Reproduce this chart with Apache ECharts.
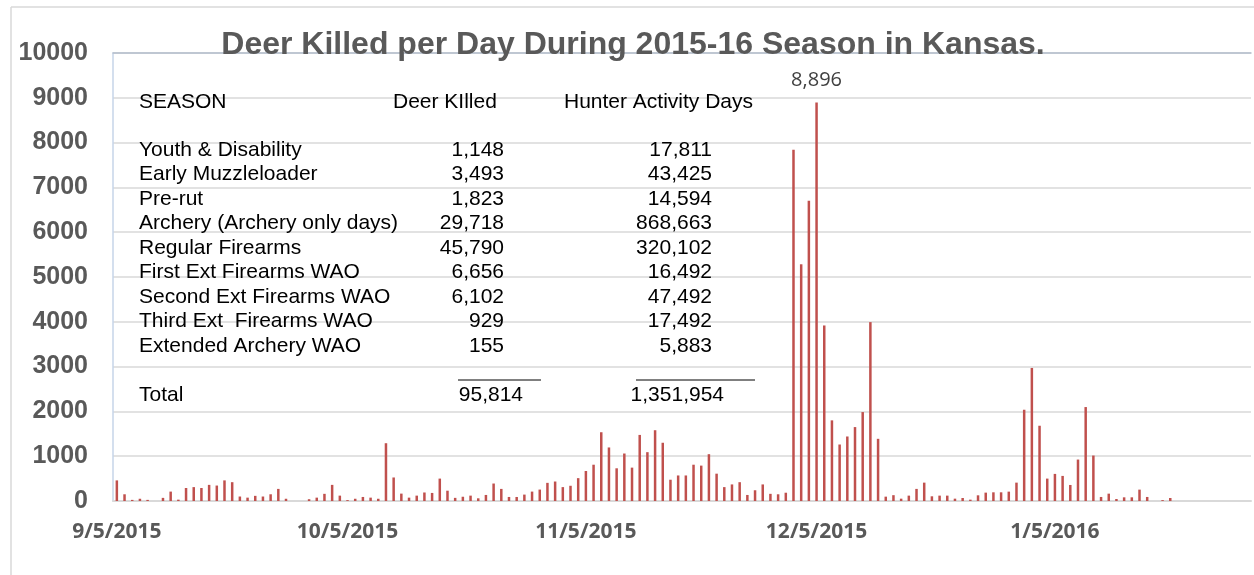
<!DOCTYPE html>
<html>
<head>
<meta charset="UTF-8">
<title>Deer Killed per Day</title>
<script src="https://cdn.jsdelivr.net/npm/echarts@6/dist/echarts.min.js"></script>
<style>
body { margin: 0; background: #fff; }
#main { width: 1254px; height: 575px; }
</style>
</head>
<body>
<div id="main"></div>
<script>
// daily deer kill, starting 9/5/2015
var startDate = new Date(2015, 8, 5);
var kills = [
  460, 150, 25, 50, 25, 0, 70, 210, 30, 290,
  310, 290, 360, 345, 460, 420, 100, 75, 115, 100,
  150, 270, 50, 0, 0, 40, 75, 160, 360, 120,
  20, 50, 90, 75, 50, 1290, 525, 165, 75, 120,
  190, 180, 500, 230, 70, 95, 120, 60, 135, 390,
  270, 90, 90, 143, 210, 255, 405, 435, 310, 340,
  510, 670, 810, 1535, 1195, 730, 1060, 745, 1475, 1090,
  1580, 1300, 475, 570, 570, 810, 790, 1045, 610, 310,
  370, 420, 135, 240, 370, 160, 150, 185, 7843, 5284,
  6701, 8896, 3918, 1800, 1261, 1440, 1650, 1985, 3993, 1388,
  97, 130, 52, 120, 270, 410, 105, 120, 120, 52,
  67, 30, 127, 187, 194, 194, 209, 410, 2037, 2970,
  1680, 500, 605, 560, 358, 925, 2097, 1015, 90, 164,
  45, 82, 82, 254, 90, 0, 20, 67, 0, 0,
  0, 0, 0, 0, 0, 0, 0, 0
];
var tickLabels = ['9/5/2015', '10/5/2015', '11/5/2015', '12/5/2015', '1/5/2016'];
var yTicks = [0, 1000, 2000, 3000, 4000, 5000, 6000, 7000, 8000, 9000, 10000];

// table in the chart
var seasons = ['Youth & Disability', 'Early Muzzleloader', 'Pre-rut', 'Archery (Archery only days)',
  'Regular Firearms', 'First Ext Firearms WAO', 'Second Ext Firearms WAO', 'Third Ext  Firearms WAO',
  'Extended Archery WAO'];
var deerKilled = ['1,148', '3,493', '1,823', '29,718', '45,790', '6,656', '6,102', '929', '155'];
var hunterDays = ['17,811', '43,425', '14,594', '868,663', '320,102', '16,492', '47,492', '17,492', '5,883'];
var totalDeer = '95,814';
var totalDays = '1,351,954';

var dates = [];
for (var i = 0; i < kills.length; i++) {
  var d = new Date(startDate.getTime());
  d.setDate(d.getDate() + i);
  dates.push((d.getMonth() + 1) + '/' + d.getDate() + '/' + d.getFullYear());
}
var peak = Math.max.apply(null, kills);

var txt = function (x, y, text, opts) {
  opts = opts || {};
  return {
    type: 'text', x: x, y: y, z: 10,
    style: {
      text: text,
      fill: opts.color || '#000',
      font: (opts.weight || 'normal') + ' ' + (opts.size || 21) + 'px "Liberation Sans", Arial, sans-serif',
      textAlign: opts.align || 'left',
      textVerticalAlign: 'middle'
    }
  };
};

var graphics = [
  { type: 'line', shape: { x1: 11, y1: 7, x2: 1254, y2: 7 }, style: { stroke: '#d9d9d9', lineWidth: 1.5 } },
  { type: 'line', shape: { x1: 11, y1: 7, x2: 11, y2: 575 }, style: { stroke: '#d9d9d9', lineWidth: 1.5 } },
  txt(633, 45, 'Deer Killed per Day During 2015-16 Season in Kansas.', { size: 32, weight: 'bold', color: '#595959', align: 'center' }),
  txt(139, 102, 'SEASON'),
  txt(393, 102, 'Deer KIlled'),
  txt(564, 102, 'Hunter Activity Days')
];
var rowY = 150, rowStep = 24.5;
seasons.forEach(function (s, k) {
  var y = rowY + k * rowStep;
  graphics.push(txt(139, y, s));
  graphics.push(txt(504, y, deerKilled[k], { align: 'right' }));
  graphics.push(txt(712, y, hunterDays[k], { align: 'right' }));
});
graphics.push(txt(139, 395, 'Total'));
graphics.push(txt(523, 395, totalDeer, { align: 'right' }));
graphics.push(txt(724, 395, totalDays, { align: 'right' }));
graphics.push({ type: 'line', z: 10, shape: { x1: 458, y1: 380, x2: 541, y2: 380 }, style: { stroke: '#000', lineWidth: 1 } });
graphics.push({ type: 'line', z: 10, shape: { x1: 636, y1: 380, x2: 755, y2: 380 }, style: { stroke: '#000', lineWidth: 1 } });

var chart = echarts.init(document.getElementById('main'));
chart.setOption({
  animation: false,
  backgroundColor: '#fff',
  grid: { left: 113, right: 3, top: 53, bottom: 74 },
  xAxis: [{
    type: 'category',
    data: dates,
    boundaryGap: true,
    axisLine: { show: true, lineStyle: { color: '#d9d9d9', width: 2 } },
    axisTick: { show: false },
    axisLabel: {
      interval: function (idx, val) { return tickLabels.indexOf(val) >= 0; },
      color: '#595959',
      fontFamily: 'Open Sans',
      fontWeight: 'bold',
      fontSize: 21,
      margin: 21
    },
    splitLine: { show: false }
  }, {
    type: 'category',
    data: dates,
    position: 'top',
    z: 5,
    axisLine: { show: true, lineStyle: { color: '#b4bfcd', width: 1.5 } },
    axisTick: { show: false },
    axisLabel: { show: false }
  }],
  yAxis: {
    type: 'value',
    min: yTicks[0],
    max: yTicks[yTicks.length - 1],
    interval: 1000,
    axisLine: { show: true, lineStyle: { color: '#c6d5e9', width: 1.5 } },
    axisTick: { show: false },
    axisLabel: {
      color: '#595959',
      fontFamily: 'Liberation Sans',
      fontWeight: 'bold',
      fontSize: 25,
      margin: 25,
      formatter: function (v) { return String(v); }
    },
    splitLine: { show: true, lineStyle: { color: '#d9d9d9', width: 1.5 } }
  },
  series: [{
    type: 'bar',
    barWidth: 2.5,
    itemStyle: { color: '#c0504d' },
    data: kills.map(function (v) {
      return v === peak ? {
        value: v,
        label: {
          show: true, position: 'top', distance: 12,
          color: '#404040', fontFamily: 'Open Sans', fontSize: 20,
          formatter: function (p) { return p.value.toLocaleString('en-US'); }
        }
      } : v;
    })
  }],
  graphic: graphics
});
</script>
</body>
</html>
